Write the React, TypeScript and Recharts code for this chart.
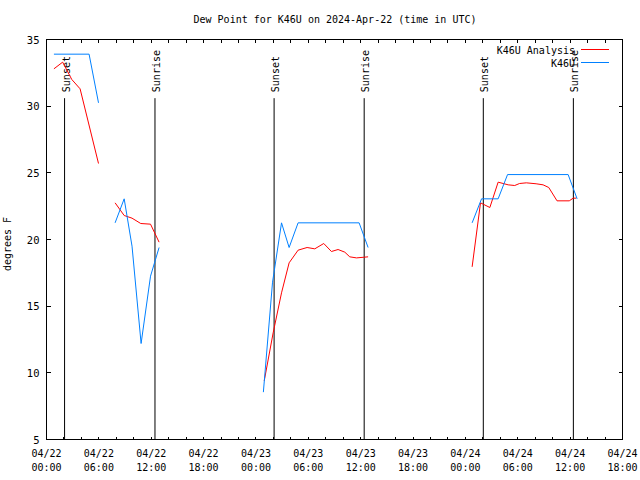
import React from 'react';
import { LineChart, Line, XAxis, YAxis, ReferenceLine, ReferenceArea } from 'recharts';

// K46U Analysis (red) — hours since 04/22 00:00 UTC, null = gap
const analysisHours = [
  0.85, 1.85, 2.9, 3.85, 5.96, 6.9,
  7.86, 8.9, 9.8, 10.8, 11.92, 12.9, 18,
  24.95, 25.97, 26.93, 27.8, 28.83, 29.86, 30.74, 31.77, 32.65, 33.41, 34.18, 34.75, 35.52, 36.85, 42,
  48.77, 49.73, 50.8, 51.75, 52.9, 53.65, 54.2, 54.98, 56.1, 56.9, 57.55, 58.5, 59.9, 60.35, 60.7,
];
const analysisValues = [
  32.8, 33.3, 32.0, 31.3, 25.7, null,
  22.75, 21.8, 21.6, 21.2, 21.15, 19.8, null,
  9.4, 13.0, 16.0, 18.25, 19.2, 19.4, 19.3, 19.7, 19.1, 19.25, 19.05, 18.7, 18.62, 18.7, null,
  17.95, 22.75, 22.4, 24.3, 24.1, 24.05, 24.2, 24.25, 24.18, 24.1, 23.9, 22.9, 22.9, 23.1, 23.1,
];

// K46U station (blue)
const stationHours = [
  0.85, 4.88, 5.96, 6.9,
  7.86, 8.9, 9.8, 10.84, 11.92, 12.9, 18,
  24.85, 25.9, 26.93, 27.8, 28.83, 35.82, 36.85, 42,
  48.77, 49.85, 51.75, 52.83, 59.77, 60.8,
];
const stationValues = [
  33.9, 33.9, 30.25, null,
  21.25, 23.05, 19.5, 12.2, 17.25, 19.4, null,
  8.55, 16.8, 21.25, 19.4, 21.25, 21.25, 19.4, null,
  21.25, 23.05, 23.05, 24.87, 24.87, 23.05,
];

// Sun events
const sunHours = [2.07, 12.43, 26.08, 36.4, 50.05, 60.37];
const sunLabels = ['Sunset', 'Sunrise', 'Sunset', 'Sunrise', 'Sunset', 'Sunrise'];

// Axis labels
const labelHours = [0, 6, 12, 18, 24, 30, 36, 42, 48, 54, 60, 66];
const labelDates = ['04/22', '04/22', '04/22', '04/22', '04/23', '04/23', '04/23', '04/23', '04/24', '04/24', '04/24', '04/24'];
const labelTimes = ['00:00', '06:00', '12:00', '18:00', '00:00', '06:00', '12:00', '18:00', '00:00', '06:00', '12:00', '18:00'];
const minorHours = [0, 2, 4, 6, 8, 10, 12, 14, 16, 18, 20, 22, 24, 26, 28, 30, 32, 34, 36, 38, 40, 42, 44, 46, 48, 50, 52, 54, 56, 58, 60, 62, 64, 66];
const yTicks = [5, 10, 15, 20, 25, 30, 35];

const analysisData = analysisHours.map((h, i) => ({ h, v: analysisValues[i] }));
const stationData = stationHours.map((h, i) => ({ h, v: stationValues[i] }));

const W = 640;
const H = 480;
const PL = 46.5;
const PR = 622.5;
const PT = 39.5;
const PB = 439.5;
const FONT = 'DejaVu Sans Mono';
const RED = '#ff0000';
const BLUE = '#0080ff';

const XTick = (props: any) => {
  const { x, payload } = props;
  const h = payload.value;
  const idx = labelHours.indexOf(h);
  return (
    <g>
      <line x1={x} x2={x} y1={PB} y2={PB - 3} stroke="#000" shapeRendering="crispEdges" />
      <line x1={x} x2={x} y1={PT} y2={PT + 3} stroke="#000" shapeRendering="crispEdges" />
      {idx >= 0 && (
        <text x={x} y={PB + 14} textAnchor="middle" dominantBaseline="central" fontFamily={FONT} fontSize={10} fill="#000">
          {labelDates[idx]}
        </text>
      )}
      {idx >= 0 && (
        <text x={x} y={PB + 27.5} textAnchor="middle" dominantBaseline="central" fontFamily={FONT} fontSize={10} fill="#000">
          {labelTimes[idx]}
        </text>
      )}
    </g>
  );
};

const YTick = (props: any) => {
  const { y, payload } = props;
  return (
    <g>
      <line x1={PL} x2={PL + 4} y1={y} y2={y} stroke="#000" shapeRendering="crispEdges" />
      <line x1={PR - 4} x2={PR} y1={y} y2={y} stroke="#000" shapeRendering="crispEdges" />
      <text x={PL - 7} y={y} textAnchor="end" dominantBaseline="central" fontFamily={FONT} fontSize={10.5} fill="#000">
        {payload.value}
      </text>
    </g>
  );
};

const sunLabel = (text: string) => (props: any) => {
  const vb = props.viewBox || { x: 0, y: 0 };
  const x = vb.x + 5;
  const y = vb.y - 6;
  return (
    <text x={x} y={y} transform={`rotate(-90 ${x} ${y})`} textAnchor="start" fontFamily={FONT} fontSize={10} fill="#000">
      {text}
    </text>
  );
};

export default function App() {
  return (
    <div style={{ position: 'absolute', left: 0, top: 0, width: W, height: H, background: '#fff' }}>
      <LineChart
        width={W}
        height={H}
        margin={{ top: PT, right: W - PR, bottom: 0, left: 0 }}
      >
        <XAxis
          type="number"
          dataKey="h"
          domain={[0, 66]}
          ticks={minorHours}
          interval={0}
          height={H - PB}
          axisLine={false}
          tickLine={false}
          tick={<XTick />}
          allowDataOverflow
        />
        <YAxis
          type="number"
          domain={[5, 35]}
          ticks={yTicks}
          interval={0}
          width={PL}
          axisLine={false}
          tickLine={false}
          tick={<YTick />}
          allowDataOverflow
        />
        {sunHours.map((h, i) => (
          <ReferenceLine
            key={'sun' + i}
            segment={[{ x: h, y: 30.6 }, { x: h, y: 5 }]}
            stroke="#000"
            strokeWidth={1}
            label={sunLabel(sunLabels[i])}
          />
        ))}
        <Line
          data={analysisData}
          dataKey="v"
          type="linear"
          stroke={RED}
          strokeWidth={1}
          dot={false}
          activeDot={false}
          isAnimationActive={false}
          connectNulls={false}
        />
        <Line
          data={stationData}
          dataKey="v"
          type="linear"
          stroke={BLUE}
          strokeWidth={1}
          dot={false}
          activeDot={false}
          isAnimationActive={false}
          connectNulls={false}
        />
        <ReferenceArea x1={0} x2={66} y1={5} y2={35} fill="none" stroke="#000" strokeWidth={1} shapeRendering="crispEdges" />
      </LineChart>
      <svg width={W} height={H} style={{ position: 'absolute', left: 0, top: 0, pointerEvents: 'none' }}>
        <text x={335} y={19} textAnchor="middle" dominantBaseline="central" fontFamily={FONT} fontSize={10} fill="#000">
          Dew Point for K46U on 2024-Apr-22 (time in UTC)
        </text>
        <text x={7} y={244} transform="rotate(-90 7 244)" textAnchor="middle" dominantBaseline="central" fontFamily={FONT} fontSize={10} fill="#000">
          degrees F
        </text>
        <text x={575} y={50} textAnchor="end" dominantBaseline="central" fontFamily={FONT} fontSize={10} fill="#000">
          K46U Analysis
        </text>
        <line x1={581} x2={609} y1={49.5} y2={49.5} stroke={RED} />
        <text x={575} y={63} textAnchor="end" dominantBaseline="central" fontFamily={FONT} fontSize={10} fill="#000">
          K46U
        </text>
        <line x1={581} x2={609} y1={62.5} y2={62.5} stroke={BLUE} />
      </svg>
    </div>
  );
}
